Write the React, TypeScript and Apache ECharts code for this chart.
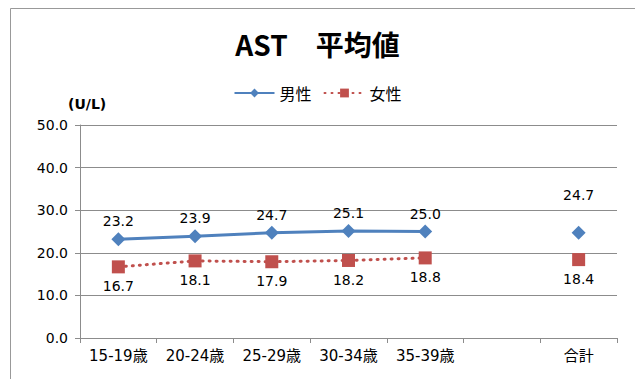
import React, { useEffect, useRef } from "react";
import * as echarts from "echarts";

const categories = ["15-19歳", "20-24歳", "25-29歳", "30-34歳", "35-39歳", "", "合計"];
const maleValues: (number | null)[] = [23.2, 23.9, 24.7, 25.1, 25.0, null, 24.7];
const femaleValues: (number | null)[] = [16.7, 18.1, 17.9, 18.2, 18.8, null, 18.4];

const CJK = "'Noto Sans CJK JP', 'Noto Sans', sans-serif";
const FONT = "'DejaVu Sans', 'Noto Sans CJK JP', sans-serif";
const BLUE = "#4F81BD";
const RED = "#C0504D";
const GRID = "#8C8C8C";

export default function App() {
  const ref = useRef<HTMLDivElement>(null);

  useEffect(() => {
    document.body.style.margin = "0";
    const chart = echarts.init(ref.current!, undefined, { renderer: "svg" });

    const maleData = maleValues.map((v, i) =>
      i === maleValues.length - 1 && v !== null
        ? { value: v, label: { offset: [0, -20] } }
        : v
    );

    chart.setOption({
      animation: false,
      backgroundColor: "#fff",
      textStyle: { fontFamily: FONT },
      title: {
        text: "AST　平均値",
        left: "center",
        top: 25,
        textStyle: { fontFamily: CJK, fontSize: 28, fontWeight: "bold", color: "#000" },
      },
      legend: {
        top: 80,
        left: "center",
        itemWidth: 40,
        itemHeight: 11,
        itemGap: 12,
        textStyle: { fontFamily: CJK, fontSize: 16, color: "#000" },
        data: ["男性", "女性"],
      },
      graphic: [
        {
          type: "rect",
          shape: { x: 10.5, y: 8.5, width: 700, height: 500 },
          style: { fill: "none", stroke: "#999", lineWidth: 1 },
          silent: true,
        },
        {
          type: "text",
          left: 68,
          top: 97,
          style: { text: "(U/L)", font: `bold 14px 'DejaVu Sans', sans-serif`, fill: "#000" },
        },
      ],
      grid: { left: 80, right: 18, top: 125, bottom: 41 },
      xAxis: {
        type: "category",
        data: categories,
        boundaryGap: true,
        axisLine: { lineStyle: { color: GRID } },
        axisTick: { show: true, length: 5, lineStyle: { color: GRID } },
        axisLabel: { fontFamily: FONT, fontSize: 15, color: "#000", margin: 10, interval: 0 },
      },
      yAxis: {
        type: "value",
        min: 0,
        max: 50,
        interval: 10,
        axisLine: { show: true, lineStyle: { color: GRID } },
        axisTick: { show: true, length: 5, lineStyle: { color: GRID } },
        splitLine: { show: true, lineStyle: { color: GRID } },
        axisLabel: {
          fontFamily: FONT,
          fontSize: 14,
          color: "#000",
          margin: 12,
          formatter: (v: number) => v.toFixed(1),
        },
      },
      series: [
        {
          name: "男性",
          type: "line",
          data: maleData,
          connectNulls: false,
          symbol: "diamond",
          symbolSize: 14,
          itemStyle: { color: BLUE },
          lineStyle: { color: BLUE, width: 3 },
          label: {
            show: true,
            position: "top",
            distance: 4,
            fontFamily: FONT,
            fontSize: 14,
            color: "#000",
            formatter: (p: any) => Number(p.value).toFixed(1),
          },
        },
        {
          name: "女性",
          type: "line",
          data: femaleValues,
          connectNulls: false,
          symbol: "rect",
          symbolSize: 13,
          itemStyle: { color: RED },
          lineStyle: { color: RED, width: 3, type: [1, 6], cap: "round" },
          label: {
            show: true,
            position: "bottom",
            distance: 6,
            fontFamily: FONT,
            fontSize: 14,
            color: "#000",
            formatter: (p: any) => Number(p.value).toFixed(1),
          },
        },
      ],
    });

    return () => chart.dispose();
  }, []);

  return <div ref={ref} style={{ width: 635, height: 379 }} />;
}
